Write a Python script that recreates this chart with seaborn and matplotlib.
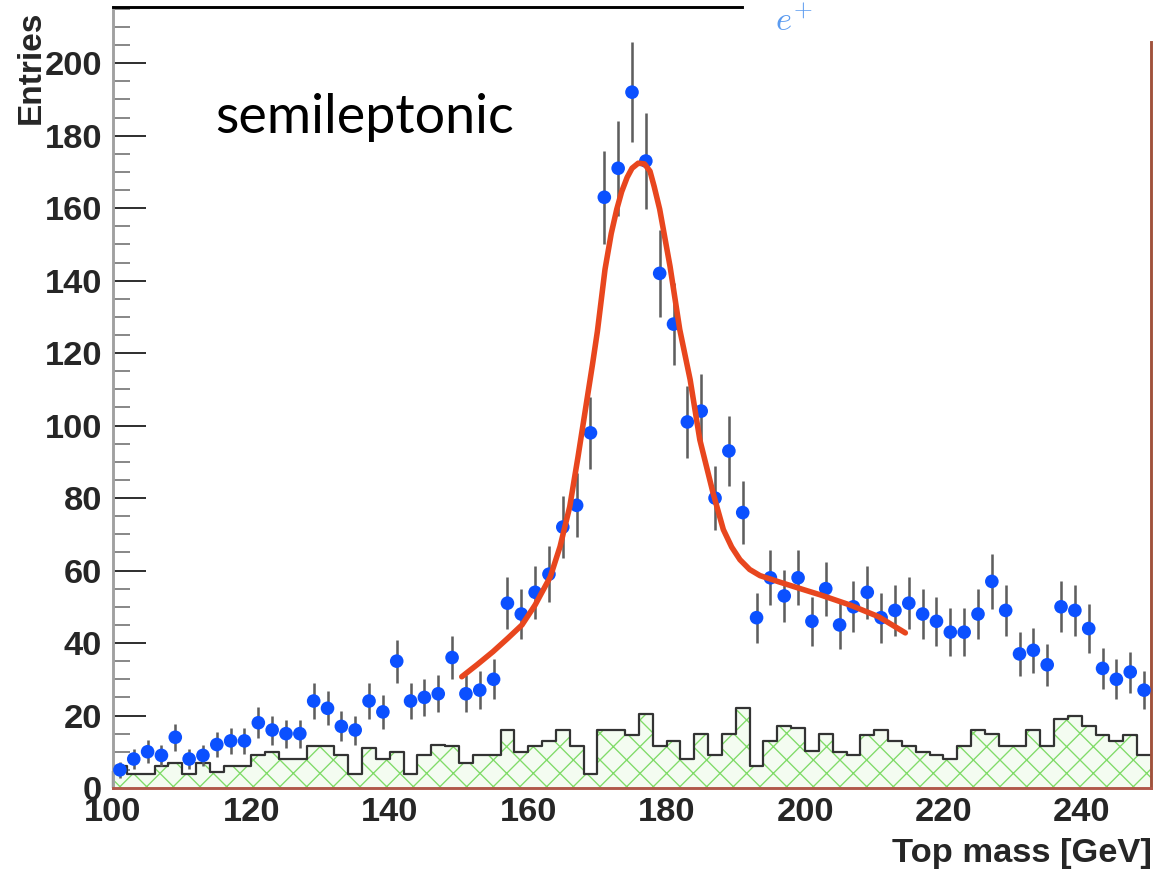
import numpy as np
import pandas as pd
import matplotlib
matplotlib.use("Agg")
import matplotlib.pyplot as plt
import seaborn as sns
from matplotlib.ticker import MultipleLocator

# 2 GeV bins between 100 and 250 GeV
bin_edges = list(range(100, 251, 2))
bin_centers = [e + 1 for e in bin_edges[:-1]]

# reconstructed top mass, data entries per bin
data_counts = [5, 8, 10, 9, 14, 8, 9, 12, 13, 13,
               18, 16, 15, 15, 24, 22, 17, 16, 24, 21,
               35, 24, 25, 26, 36, 26, 27, 30, 51, 48,
               54, 59, 72, 78, 98, 163, 171, 192, 173, 142,
               128, 101, 104, 80, 93, 76, 47, 58, 53, 58,
               46, 55, 45, 50, 54, 47, 49, 51, 48, 46,
               43, 43, 48, 57, 49, 37, 38, 34, 50, 49,
               44, 33, 30, 32, 27]

# combinatorial / non-ttbar background per bin
background_counts = [6, 4, 4, 6, 7, 4, 7, 4.5, 6, 6,
                     9, 10, 8, 8, 11.5, 11.5, 9, 4, 11, 8,
                     10, 4, 9, 12, 11.5, 7, 9, 9, 16, 10,
                     11.5, 13, 16, 11.5, 4, 16, 16, 14.5, 20.5, 11.5,
                     13, 8, 15, 9, 15, 22, 6, 13, 17, 16.5,
                     10.3, 15, 10, 9, 14.5, 16, 13, 11.5, 10, 9,
                     8, 11.5, 16, 15, 11.5, 11.5, 16, 11.5, 19, 20,
                     17, 14.5, 13, 14.5, 9]

# fitted signal + background curve
fit_mass = [150.4, 152.6, 154.9, 157.1, 159.1, 161.0, 163.2, 164.6, 166.0, 167.2,
            168.2, 169.3, 170.0, 171.1, 172.0, 172.8, 173.5, 174.3, 175.0, 175.9,
            176.8, 177.6, 178.2, 179.0, 180.5, 181.9, 183.4, 184.8, 186.7, 188.2,
            189.4, 190.6, 192.0, 193.5, 196.2, 199.0, 202.2, 206.5, 210.6, 214.5]
fit_entries = [30.7, 34.0, 37.6, 41.4, 45.0, 50.5, 58.3, 66.6, 77.6, 91.4,
               103.6, 117.0, 126.0, 143.1, 153.0, 159.7, 164.5, 168.5, 171.0, 172.4,
               172.2, 170.2, 166.0, 159.7, 143.9, 126.5, 112.7, 96.1, 81.5, 71.3,
               66.5, 63.0, 60.3, 58.6, 56.9, 55.2, 53.3, 50.5, 47.3, 42.8]

hist_df = pd.DataFrame({"mass": bin_centers, "bkg": background_counts})

sns.set_theme(style="ticks")
plt.rcParams['font.family'] = ['Liberation Sans', 'DejaVu Sans']
plt.rcParams['mathtext.fontset'] = 'cm'
plt.rcParams['hatch.linewidth'] = 1.2

W, H, DPI = 1163, 872, 80
fig = plt.figure(figsize=(W / DPI, H / DPI), dpi=DPI)
ax = fig.add_axes([113 / W, 1 - 788 / H, (1151 - 113) / W, (788 - 7) / H])

# hatched background histogram
sns.histplot(data=hist_df, x="mass", weights="bkg", bins=bin_edges,
             element="step", fill=True, ax=ax, facecolor="#f4fcf1",
             edgecolor="#80db68", hatch="x", linewidth=0, alpha=1)
# its outline
sns.histplot(data=hist_df, x="mass", weights="bkg", bins=bin_edges,
             element="step", fill=False, ax=ax, color="#333333", linewidth=2.0)

# data with Poisson errors
ax.errorbar(bin_centers, data_counts, yerr=np.sqrt(data_counts), fmt="none",
            ecolor="#5e5e5e", elinewidth=2.3, capsize=0, zorder=3)
sns.scatterplot(x=bin_centers, y=data_counts, ax=ax, color="#0b50ff",
                s=150, marker="o", edgecolor="none", zorder=4)

# fit
sns.lineplot(x=fit_mass, y=fit_entries, ax=ax, color="#e8461e",
             linewidth=5.0, sort=False, zorder=5)

ax.set_xlim(100, 250)
ax.set_ylim(0, 215.5)
ax.set_xlabel("")
ax.set_ylabel("")

ax.xaxis.set_major_locator(MultipleLocator(20))
ax.xaxis.set_minor_locator(MultipleLocator(5))
ax.yaxis.set_major_locator(MultipleLocator(20))
ax.yaxis.set_minor_locator(MultipleLocator(5))

ax.tick_params(axis="y", which="major", direction="in", length=30, width=1.8,
               color="#333333", pad=10, labelsize=31)
ax.tick_params(axis="y", which="minor", direction="in", length=15, width=1.8,
               color="#8a8a8a")
ax.tick_params(axis="x", which="major", direction="in", length=15, width=2.0,
               color="#222222", pad=8, labelsize=31)
ax.tick_params(axis="x", which="minor", direction="in", length=11, width=1.8,
               color="#444444")
for lab in ax.get_xticklabels() + ax.get_yticklabels():
    lab.set_fontweight("bold")

# frame
ax.spines["left"].set_color("#a0a0a0")
ax.spines["left"].set_linewidth(2.6)
ax.spines["bottom"].set_color("#b0584a")
ax.spines["bottom"].set_linewidth(2.6)
ax.spines["right"].set_color("#a0523c")
ax.spines["right"].set_linewidth(2.6)
ax.spines["right"].set_bounds(0, 205.8)
ax.spines["top"].set_color("black")
ax.spines["top"].set_linewidth(2.6)
ax.spines["top"].set_bounds(100, 190.9)

ax.text(114.7, 180.7, "semileptonic", fontsize=48.5, family=["Lato", "DejaVu Sans"],
        color="black", va="baseline", ha="left")

fig.text(1152 / W, 1 - 862 / H, "Top mass [GeV]", fontsize=31, fontweight="bold",
         ha="right", va="baseline")
fig.text(31 / W, 1 - 11 / H, "Entries", fontsize=30, fontweight="bold",
         rotation=90, ha="center", va="top")
fig.text(775 / W, 1 - 31 / H, r"$e^{+}$", fontsize=31, color="#5b9bf0",
         ha="left", va="baseline")

fig.savefig("out.png", dpi=DPI)
